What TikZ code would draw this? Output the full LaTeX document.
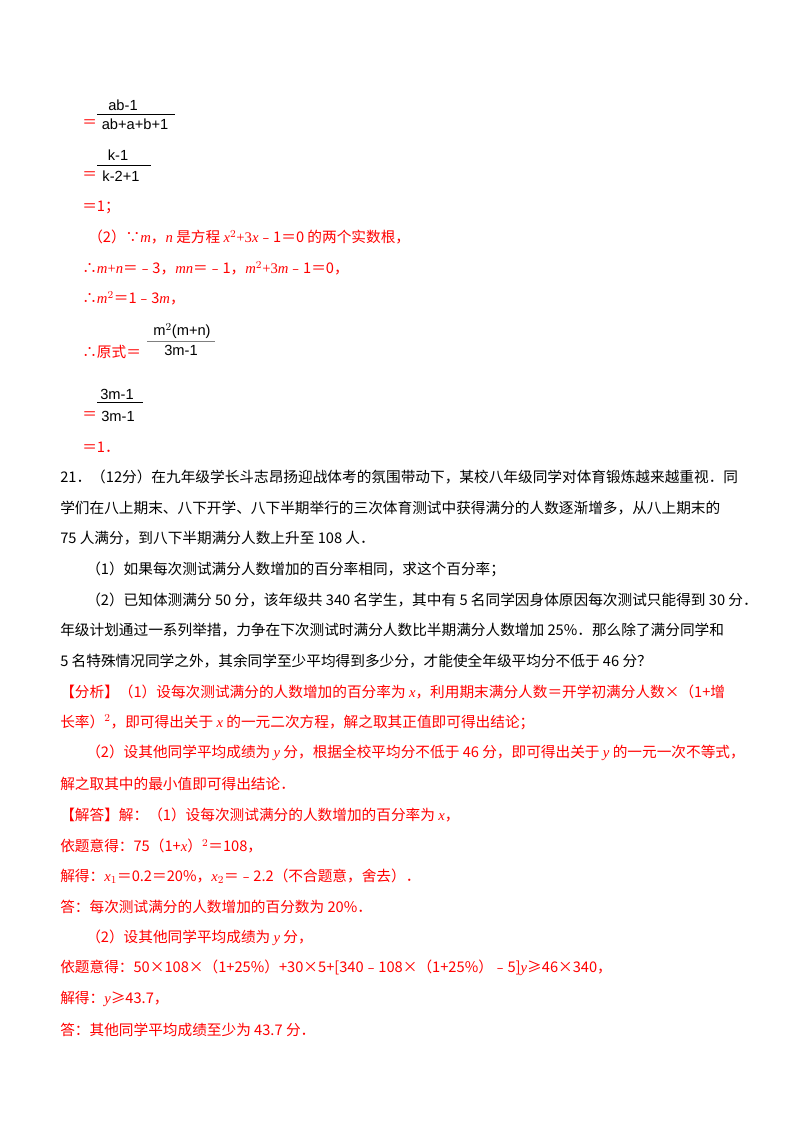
\documentclass[tikz,border=0pt]{standalone}
\usepackage{fontspec}
\setmainfont{Noto Sans CJK SC}
\newfontfamily\tm{Liberation Serif}
\newfontfamily\fs{Liberation Sans}
\definecolor{ans}{RGB}{255,0,0}
\newcommand{\vv}[1]{{\tm\itshape #1}}
\begin{document}
\begin{tikzpicture}[x=0.75pt,y=-0.75pt,
  ln/.style={anchor=west,inner sep=0pt,font=\fontsize{11pt}{13pt}\selectfont},
  rd/.style={ln,text=ans},
  fr/.style={anchor=center,inner sep=0pt,font=\fs\fontsize{11pt}{13pt}\selectfont},
  bar/.style={line width=0.6pt}]
\useasboundingbox (0,0) rectangle (800,1132);
% fractions
\node[fr] (n1) at (123,105) {ab-1};
\node[rd] (e1) at (82,124) {＝};
\node[fr] (d1) at (135,124) {ab+a+b+1};
\draw[bar] (97,114) -- (175,114);
\node[fr] (n2) at (118,155) {k-1};
\node[rd] (e2) at (82,176) {＝};
\node[fr] (d2) at (121,176) {k-2+1};
\draw[bar] (97,165) -- (151,165);
\node[rd] (l207) at (82,207) {＝1；};
\node[rd] (l237) at (88,237) {（2）∵\vv{m}，\vv{n} 是方程 \vv{x}$^{2}${\tm+3}\vv{x}﹣1＝0 的两个实数根，};
\node[rd] (l268) at (82,268) {∴\vv{m}{\tm+}\vv{n}＝﹣3，\vv{mn}＝﹣1，\vv{m}$^{2}${\tm+3}\vv{m}﹣1＝0，};
\node[rd] (l298) at (82,298) {∴\vv{m}$^{2}$＝1﹣3\vv{m}，};
\node[fr] (n3) at (182,331) {m$^{2}$(m+n)};
\node[rd] (l352) at (82,352) {∴原式＝};
\node[fr] (d3) at (181,350) {3m-1};
\draw[line width=0.4pt,gray] (147,341) -- (215,341);
\node[fr] (n4) at (117,394) {3m-1};
\node[rd] (e4) at (82,416) {＝};
\node[fr] (d4) at (118,416) {3m-1};
\draw[bar] (97,402) -- (143,402);
\node[rd] (l447) at (82,447) {＝1．};
% problem
\node[ln] (q0) at (60,477) {21．（12分）在九年级学长斗志昂扬迎战体考的氛围带动下，某校八年级同学对体育锻炼越来越重视．同};
\node[ln] (q1) at (60,508) {学们在八上期末、八下开学、八下半期举行的三次体育测试中获得满分的人数逐渐增多，从八上期末的};
\node[ln] (q2) at (60,538) {75 人满分，到八下半期满分人数上升至 108 人．};
\node[ln] (q3) at (86,569) {（1）如果每次测试满分人数增加的百分率相同，求这个百分率；};
\node[ln] (q4) at (86,600) {（2）已知体测满分 50 分，该年级共 340 名学生，其中有 5 名同学因身体原因每次测试只能得到 30 分．};
\node[ln] (q5) at (60,630) {年级计划通过一系列举措，力争在下次测试时满分人数比半期满分人数增加 25\%．那么除了满分同学和};
\node[ln] (q6) at (60,661) {5 名特殊情况同学之外，其余同学至少平均得到多少分，才能使全年级平均分不低于 46 分？};
% answer
\node[rd] (a0) at (60,692) {【分析】（1）设每次测试满分的人数增加的百分率为 \vv{x}，利用期末满分人数＝开学初满分人数×（1+增};
\node[rd] (a1) at (60,722) {长率）$^{2}$，即可得出关于 \vv{x} 的一元二次方程，解之取其正值即可得出结论；};
\node[rd] (a2) at (86,753) {（2）设其他同学平均成绩为 \vv{y} 分，根据全校平均分不低于 46 分，即可得出关于 \vv{y} 的一元一次不等式，};
\node[rd] (a3) at (60,784) {解之取其中的最小值即可得出结论．};
\node[rd] (a4) at (60,815) {【解答】解：（1）设每次测试满分的人数增加的百分率为 \vv{x}，};
\node[rd] (a5) at (60,846) {依题意得：75（1+\vv{x}）$^{2}$＝108，};
\node[rd] (a6) at (60,876) {解得：\vv{x}$_{1}$＝0.2＝20\%，\vv{x}$_{2}$＝﹣2.2（不合题意，舍去）．};
\node[rd] (a7) at (60,907) {答：每次测试满分的人数增加的百分数为 20\%．};
\node[rd] (a8) at (86,938) {（2）设其他同学平均成绩为 \vv{y} 分，};
\node[rd] (a9) at (60,968) {依题意得：50×108×（1+25\%）+30×5+[340﹣108×（1+25\%）﹣5]\vv{y}≥46×340，};
\node[rd] (a10) at (60,999) {解得：\vv{y}≥43.7，};
\node[rd] (a11) at (60,1030) {答：其他同学平均成绩至少为 43.7 分．};
\end{tikzpicture}
\end{document}
